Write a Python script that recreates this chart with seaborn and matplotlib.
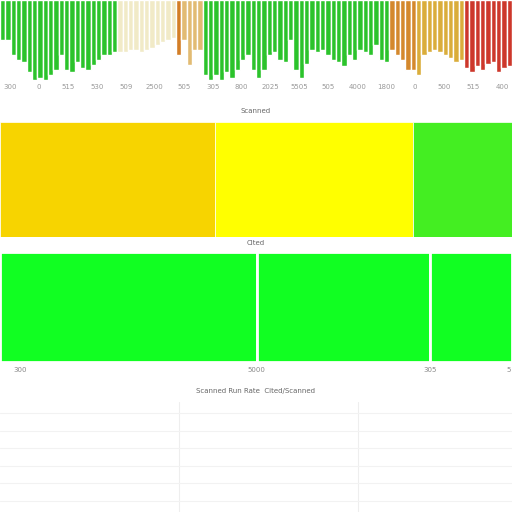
import matplotlib
matplotlib.use("Agg")
import matplotlib.pyplot as plt
import seaborn as sns
import numpy as np
import pandas as pd

sns.set_theme(style="white")

# Top panel: depth of each hanging bar (0-80) and its colour, left to right
green_a = [40,40,55,60,62,72,80,78,80,75,70,55,70,72,62,68,70,65,60,55,55,52]
cream   = [52,52,50,50,52,50,48,45,42,40,38]
orange1 = [55]
mixed   = [40,65,50,50]
green_b = [75,80]
green_c = [75,80,72,78,70,60,55,70,78,70,55,52,60,62,40,70,78,64,50,52,50,55,60,62,66,55,60,50,52,55,45,60,62]
amber   = [50,55,60,70,70]
yellow  = [75,55,52,50,52,55,58,62,60]
red     = [68,72,66,70,64,62,72,68,66]
depths = green_a + cream + orange1 + mixed + green_b + green_c + amber + yellow + red
colours = (["#11dd11"]*len(green_a) + ["#f8eec0"]*len(cream) + ["#f07f0a"]*len(orange1) +
           ["#f5c060"]*len(mixed) + ["#11dd11"]*len(green_b) + ["#11dd11"]*len(green_c) +
           ["#f08a10"]*len(amber) + ["#f5b820"]*len(yellow) + ["#e82010"]*len(red))
top_ticks = ["300","0","515","530","509","2500","505","305","800","2025","5505","505","4000","1800","0","500","515","400"]

mid_segments = [("A", 215, "#f7d400"), ("B", 198, "#ffff00"), ("C", 99, "#44ee22")]
bot_segments = [("A", 256, "#11ff22"), ("B", 172, "#11ff22"), ("C", 82, "#11ff22")]
bot_ticks = ["300", "5000", "305", "5"]

fig = plt.figure(figsize=(5.12, 5.12), dpi=100)

ax1 = fig.add_axes([0, 1-80/512, 1, 80/512])
df = pd.DataFrame({"i": range(len(depths)), "d": depths})
sns.barplot(data=df, x="i", y="d", hue="i", palette=colours, legend=False, ax=ax1, width=0.95)
ax1.set_ylim(80, 0)
ax1.set_xlim(-0.5, len(depths)-0.5)
ax1.axis("off")
for k, t in enumerate(top_ticks):
    fig.text(0.02 + k*0.0565, 1-89/512, t, fontsize=5, color="#999999", ha="center")
fig.text(0.5, 1-113/512, "Scanned", fontsize=5, color="#666666", ha="center")

def strip(y0, h, segs, gaps):
    ax = fig.add_axes([0, 1-y0/512, 1, h/512])
    ws = [s[1] for s in segs]
    left = 0
    for (n, w, c) in segs:
        ax.barh(0, w, left=left, color=c, height=1, edgecolor="white", linewidth=gaps)
        left += w
    ax.set_xlim(0, sum(ws)); ax.set_ylim(-0.5, 0.5)
    ax.axis("off")
    return ax

strip(237, 115, mid_segments, 0.5)
fig.text(0.5, 1-245/512, "Cited", fontsize=5, color="#666666", ha="center")
strip(362, 110, bot_segments, 2)
for x, t, ha in zip([0.04, 0.5, 0.84, 0.998], bot_ticks, ["center"]*3 + ["right"]):
    fig.text(x, 1-372/512, t, fontsize=5, color="#888888", ha=ha)
fig.text(0.5, 1-393/512, "Scanned Run Rate  Cited/Scanned", fontsize=5, color="#666666", ha="center")

ax4 = fig.add_axes([0, 0, 1, 110/512])
ax4.set_xticks([]); ax4.set_yticks([])
for s in ax4.spines.values(): s.set_visible(False)
for x in [0.35, 0.7]:
    ax4.axvline(x, color="#eeeeee", lw=0.8)
for y in np.linspace(0.1, 0.9, 6):
    ax4.axhline(y, color="#f2f2f2", lw=0.8)

fig.savefig("out.png", dpi=100)
